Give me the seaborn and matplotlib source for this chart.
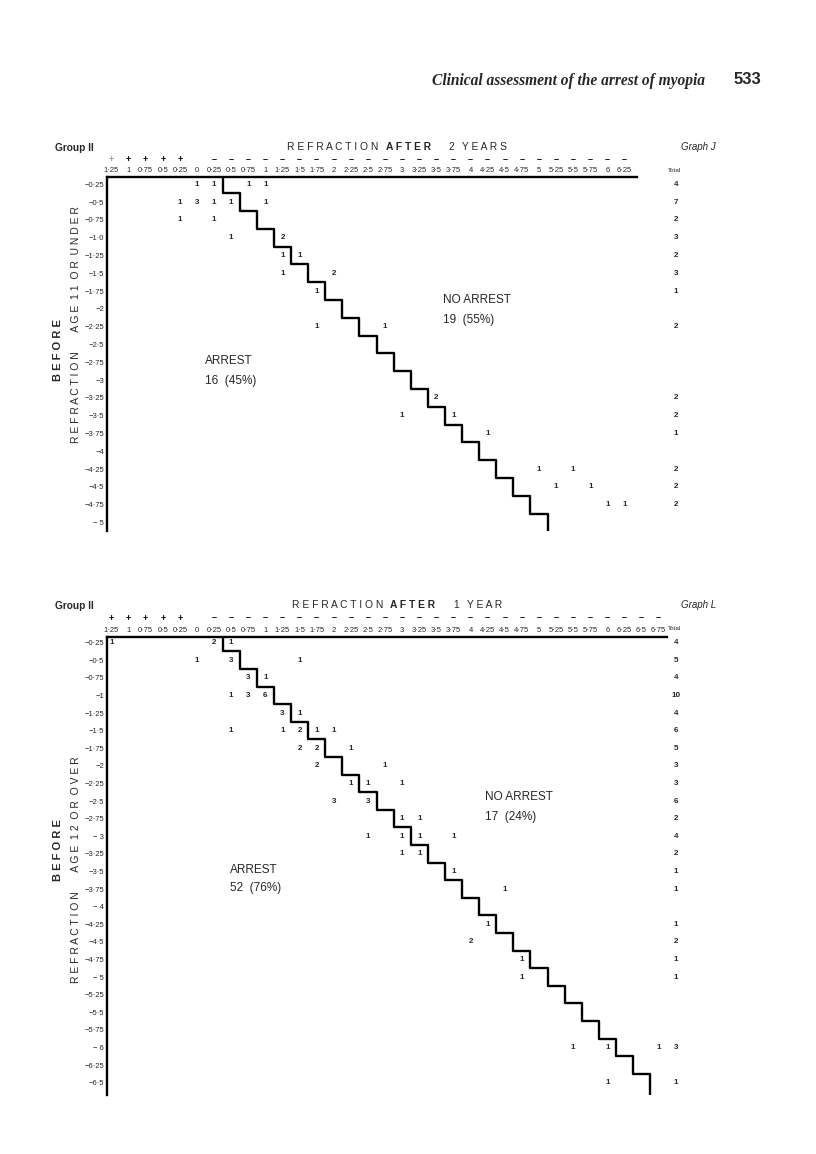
import matplotlib
matplotlib.use("Agg")
import matplotlib.pyplot as plt
import pandas as pd
import seaborn as sns

# ---------- Graph J : refraction after 2 years (age 11 or under) ----------
rows_j = [-0.25, -0.5, -0.75, -1.0, -1.25, -1.5, -1.75, -2.0, -2.25, -2.5,
          -2.75, -3.0, -3.25, -3.5, -3.75, -4.0, -4.25, -4.5, -4.75, -5.0]
row_labels_j = ["−0·25", "−0·5", "−0·75", "−1·0", "−1·25", "−1·5", "−1·75", "−2",
                "−2·25", "−2·5", "−2·75", "−3", "−3·25", "−3·5", "−3·75", "−4",
                "−4·25", "−4·5", "−4·75", "− 5"]
totals_j = [4, 7, 2, 3, 2, 3, 1, None, 2, None, None, None, 2, 2, 1, None, 2, 2, 2, None]
cols_j = [1.25, 1.0, 0.75, 0.5, 0.25, 0.0, -0.25, -0.5, -0.75, -1.0, -1.25, -1.5,
          -1.75, -2.0, -2.25, -2.5, -2.75, -3.0, -3.25, -3.5, -3.75, -4.0, -4.25,
          -4.5, -4.75, -5.0, -5.25, -5.5, -5.75, -6.0, -6.25]
before_j = [-0.25, -0.25, -0.25, -0.25, -0.5, -0.5, -0.5, -0.5, -0.5, -0.75, -0.75,
            -1.0, -1.0, -1.25, -1.25, -1.5, -1.5, -1.75, -2.25, -2.25, -3.25,
            -3.5, -3.5, -3.75, -4.25, -4.25, -4.5, -4.5, -4.75, -4.75]
after_j = [0.0, -0.25, -0.75, -1.0, 0.25, 0.0, -0.25, -0.5, -1.0, 0.25, -0.25,
           -0.5, -1.25, -1.25, -1.5, -1.25, -2.0, -1.75, -1.75, -2.75, -3.5,
           -3.0, -3.75, -4.25, -5.0, -5.5, -5.25, -5.75, -6.0, -6.25]
count_j = [1, 1, 1, 1, 1, 3, 1, 1, 1, 1, 1,
           1, 2, 1, 1, 1, 2, 1, 1, 1, 2,
           1, 1, 1, 1, 1, 1, 1, 1, 1]

# ---------- Graph L : refraction after 1 year (age 12 or over) ----------
rows_l = [-0.25, -0.5, -0.75, -1.0, -1.25, -1.5, -1.75, -2.0, -2.25, -2.5, -2.75,
          -3.0, -3.25, -3.5, -3.75, -4.0, -4.25, -4.5, -4.75, -5.0, -5.25, -5.5,
          -5.75, -6.0, -6.25, -6.5]
row_labels_l = ["−0·25", "−0·5", "−0·75", "−1", "−1·25", "−1·5", "−1·75", "−2",
                "−2·25", "−2·5", "−2·75", "− 3", "−3·25", "−3·5", "−3·75", "− 4",
                "−4·25", "−4·5", "−4·75", "− 5", "−5·25", "−5·5", "−5·75", "− 6",
                "−6·25", "−6·5"]
totals_l = [4, 5, 4, 10, 4, 6, 5, 3, 3, 6, 2, 4, 2, 1, 1, None, 1, 2, 1, 1,
            None, None, None, 3, None, 1]
cols_l = cols_j + [-6.5, -6.75]
before_l = [-0.25, -0.25, -0.25, -0.5, -0.5, -0.5, -0.75, -0.75, -1.0, -1.0, -1.0,
            -1.25, -1.25, -1.5, -1.5, -1.5, -1.5, -1.5, -1.75, -1.75, -1.75,
            -2.0, -2.0, -2.25, -2.25, -2.25, -2.5, -2.5, -2.75, -2.75,
            -3.0, -3.0, -3.0, -3.0, -3.25, -3.25, -3.5, -3.75, -4.25, -4.5,
            -4.75, -5.0, -6.0, -6.0, -6.0, -6.5]
after_l = [1.25, -0.25, -0.5, 0.0, -0.5, -1.5, -0.75, -1.0, -0.5, -0.75, -1.0,
           -1.25, -1.5, -0.5, -1.25, -1.5, -1.75, -2.0, -1.5, -1.75, -2.25,
           -1.75, -2.75, -2.25, -2.5, -3.0, -2.0, -2.5, -3.0, -3.25,
           -2.5, -3.0, -3.25, -3.75, -3.0, -3.25, -3.75, -4.5, -4.25, -4.0,
           -4.75, -4.75, -5.5, -6.0, -6.75, -6.0]
count_l = [1, 2, 1, 1, 3, 1, 3, 1, 1, 3, 6,
           3, 1, 1, 1, 2, 1, 1, 2, 2, 1,
           2, 1, 1, 1, 1, 3, 3, 1, 1,
           1, 1, 1, 1, 1, 1, 1, 1, 1, 2,
           1, 1, 1, 1, 1, 1]

W, H = 816, 1154
X0, XS = 197, 68.4          # pixel of column 0 and pixels per dioptre


def fx(x):
    return x / W


def fy(y):
    return 1 - y / H


def col_label(v):
    return f"{abs(v):g}".replace(".", "·")


sns.set_style("white")
plt.rcParams["font.family"] = ["Liberation Sans", "DejaVu Sans"]

fig = plt.figure(figsize=(W / 100, H / 100), dpi=100)


def graph(top_px, ys, ytop, ybot, xright, rows, row_labels, cols, before, after,
          counts, totals, sign_y):
    xl = -1.32
    left_px = X0 + xl * XS
    right_px = X0 + xright * XS
    bot_px = top_px + (ybot - ytop) * ys
    ax = fig.add_axes([fx(left_px), fy(bot_px), (right_px - left_px) / W,
                       (bot_px - top_px) / H])

    # staircase separating arrest / no arrest
    sx, sy = [], []
    for r in rows:
        sx += [-r + 0.125, -r + 0.125]
        sy += [-r - 0.125, -r + 0.125]
    sy[0], sy[-1] = ytop, ybot
    steps = pd.DataFrame({"x": sx, "y": sy})
    sns.lineplot(data=steps, x="x", y="y", sort=False, estimator=None,
                 color="black", lw=1.7, ax=ax)

    for b, a, c in zip(before, after, counts):
        ax.text(-a, -b, str(c), ha="center", va="center", fontsize=5.8,
                fontweight="bold")
    for r, t in zip(rows, totals):
        if t is not None:
            ax.text((676 - X0) / XS, -r, str(t), ha="center", va="center",
                    fontsize=5.8, fontweight="bold")

    ax.set_xlim(xl, xright)
    ax.set_ylim(ybot, ytop)
    ax.xaxis.set_ticks_position("top")
    ax.set_xticks([-c for c in cols])
    ax.set_xticklabels([col_label(c) for c in cols])
    ax.set_yticks([-r for r in rows])
    ax.set_yticklabels(row_labels)
    ax.tick_params(axis="both", length=0, labelsize=5.5, pad=2)
    ax.set_xlabel("")
    ax.set_ylabel("")
    for side in ["right", "bottom"]:
        ax.spines[side].set_visible(False)
    for side in ["left", "top"]:
        ax.spines[side].set_linewidth(1.7)
        ax.spines[side].set_color("black")
    ax.grid(False)

    for c in cols:
        if c == 0:
            continue
        sign = "+" if c > 0 else "–"
        colr = "#999999" if c == 1.25 and sign_y < 300 else "black"
        fig.text(fx(X0 - c * XS), fy(sign_y), sign, ha="center", va="center",
                 fontsize=6.5, fontweight="bold", color=colr)
    return ax


graph(177, 71.2, 0.147, 5.12, 6.44, rows_j, row_labels_j, cols_j, before_j,
      after_j, count_j, totals_j, 160)
graph(637, 70.4, 0.17, 6.67, 6.87, rows_l, row_labels_l, cols_l, before_l,
      after_l, count_l, totals_l, 618)

# page header
fig.text(fx(432), fy(81), "Clinical assessment of the arrest of myopia",
         family=["Liberation Serif", "DejaVu Serif"], style="italic",
         fontweight="bold", fontsize=11.2, ha="left", va="center")
fig.text(fx(734), fy(80), "533", fontweight="bold", fontsize=12,
         ha="left", va="center")

# graph headings
for ytxt, words, graph_name, ylab_main, ylab_y in [
        (147, [(287, "R E F R A C T I O N", "normal"), (386, "A F T E R", "bold"),
               (448, "2", "normal"), (462, "Y E A R S", "normal")],
         "Graph J", "R E F R A C T I O N       A G E  1 1  O R  U N D E R", (325, 350)),
        (605, [(292, "R E F R A C T I O N", "normal"), (390, "A F T E R", "bold"),
               (453, "1", "normal"), (467, "Y E A R", "normal")],
         "Graph L", "R E F R A C T I O N       A G E  1 2  O R  O V E R", (870, 850))]:
    fig.text(fx(55), fy(ytxt + 1), "Group II", fontsize=7.3, fontweight="bold",
             ha="left", va="center")
    for x, w, wt in words:
        fig.text(fx(x), fy(ytxt), w, fontsize=7.4, fontweight=wt, ha="left",
                 va="center")
    fig.text(fx(681), fy(ytxt), graph_name, fontsize=7, style="italic",
             ha="left", va="center")
    fig.text(fx(674), fy(ytxt + 24), "Total", fontsize=4.5, ha="center",
             va="center")
    fig.text(fx(76), fy(ylab_y[0]), ylab_main, fontsize=7.5, rotation=90,
             ha="center", va="center")
    fig.text(fx(58), fy(ylab_y[1]), "B E F O R E", fontsize=8, fontweight="bold",
             rotation=90, ha="center", va="center")

# region annotations
for x, y, s in [(205, 361, "ARREST"), (205, 381, "16  (45%)"),
                (443, 300, "NO ARREST"), (443, 320, "19  (55%)"),
                (230, 870, "ARREST"), (230, 888, "52  (76%)"),
                (485, 797, "NO ARREST"), (485, 817, "17  (24%)")]:
    fig.text(fx(x), fy(y), s, fontsize=8.5, ha="left", va="center")

fig.savefig("out.png", dpi=100)
